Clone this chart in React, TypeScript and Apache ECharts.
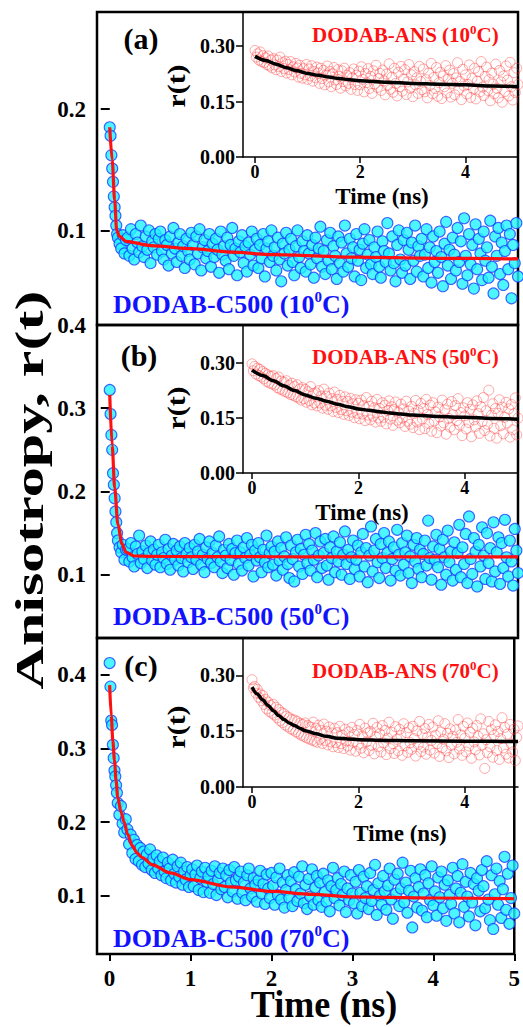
import { useEffect, useRef } from 'react';
import * as echarts from 'echarts';

// ---------------- data ----------------
const T_MAIN = [
  0, 0.01, 0.02, 0.03, 0.04, 0.05, 0.06, 0.07, 0.08, 0.09,
  0.10, 0.12, 0.14, 0.16, 0.18, 0.20,
  0.22, 0.24, 0.26, 0.28, 0.30, 0.32, 0.34, 0.36, 0.38, 0.40,
  0.42, 0.44, 0.46, 0.48, 0.50, 0.52, 0.54, 0.56, 0.58, 0.60,
  0.62, 0.64, 0.66, 0.68, 0.70, 0.72, 0.74, 0.76, 0.78, 0.80,
  0.82, 0.84, 0.86, 0.88, 0.90, 0.92, 0.94, 0.96, 0.98, 1.00,
  1.02, 1.04, 1.06, 1.08, 1.10, 1.12, 1.14, 1.16, 1.18, 1.20,
  1.22, 1.24, 1.26, 1.28, 1.30, 1.32, 1.34, 1.36, 1.38, 1.40,
  1.42, 1.44, 1.46, 1.48, 1.50, 1.52, 1.54, 1.56, 1.58, 1.60,
  1.62, 1.64, 1.66, 1.68, 1.70, 1.72, 1.74, 1.76, 1.78, 1.80,
  1.82, 1.84, 1.86, 1.88, 1.90, 1.92, 1.94, 1.96, 1.98, 2.00,
  2.02, 2.04, 2.06, 2.08, 2.10, 2.12, 2.14, 2.16, 2.18, 2.20,
  2.22, 2.24, 2.26, 2.28, 2.30, 2.32, 2.34, 2.36, 2.38, 2.40,
  2.42, 2.44, 2.46, 2.48, 2.50, 2.52, 2.54, 2.56, 2.58, 2.60,
  2.62, 2.64, 2.66, 2.68, 2.70, 2.72, 2.74, 2.76, 2.78, 2.80,
  2.82, 2.84, 2.86, 2.88, 2.90, 2.92, 2.94, 2.96, 2.98, 3.00,
  3.02, 3.04, 3.06, 3.08, 3.10, 3.12, 3.14, 3.16, 3.18, 3.20,
  3.22, 3.24, 3.26, 3.28, 3.30, 3.32, 3.34, 3.36, 3.38, 3.40,
  3.42, 3.44, 3.46, 3.48, 3.50, 3.52, 3.54, 3.56, 3.58, 3.60,
  3.62, 3.64, 3.66, 3.68, 3.70, 3.72, 3.74, 3.76, 3.78, 3.80,
  3.82, 3.84, 3.86, 3.88, 3.90, 3.92, 3.94, 3.96, 3.98, 4.00,
  4.02, 4.04, 4.06, 4.08, 4.10, 4.12, 4.14, 4.16, 4.18, 4.20,
  4.22, 4.24, 4.26, 4.28, 4.30, 4.32, 4.34, 4.36, 4.38, 4.40,
  4.42, 4.44, 4.46, 4.48, 4.50, 4.52, 4.54, 4.56, 4.58, 4.60,
  4.62, 4.64, 4.66, 4.68, 4.70, 4.72, 4.74, 4.76, 4.78, 4.80,
  4.82, 4.84, 4.86, 4.88, 4.90, 4.92, 4.94, 4.96, 4.98, 5.00,
];

const C500_10C = [
  0.185, 0.178, 0.162, 0.151, 0.140, 0.128, 0.119, 0.112, 0.104, 0.097,
  0.094, 0.089, 0.085, 0.096, 0.081, 0.092,
  0.094, 0.079, 0.101, 0.085, 0.076, 0.097, 0.090, 0.082, 0.104, 0.087,
  0.078, 0.095, 0.084, 0.100, 0.073, 0.091, 0.086, 0.097, 0.080, 0.093,
  0.099, 0.083, 0.076, 0.092, 0.088, 0.071, 0.095, 0.081, 0.102, 0.085,
  0.074, 0.090, 0.097, 0.079, 0.087, 0.069, 0.093, 0.083, 0.076, 0.098,
  0.088, 0.072, 0.095, 0.081, 0.101, 0.067, 0.086, 0.092, 0.077, 0.083,
  0.097, 0.070, 0.089, 0.078, 0.093, 0.084, 0.065, 0.099, 0.080, 0.087,
  0.075, 0.094, 0.068, 0.088, 0.102, 0.079, 0.085, 0.063, 0.091, 0.082,
  0.096, 0.073, 0.087, 0.066, 0.090, 0.080, 0.099, 0.071, 0.084, 0.093,
  0.069, 0.088, 0.077, 0.097, 0.062, 0.085, 0.091, 0.074, 0.100, 0.079,
  0.086, 0.067, 0.094, 0.076, 0.058, 0.089, 0.081, 0.098, 0.071, 0.084,
  0.093, 0.074, 0.063, 0.087, 0.100, 0.078, 0.069, 0.091, 0.083, 0.066,
  0.096, 0.081, 0.072, 0.088, 0.061, 0.094, 0.077, 0.085, 0.103, 0.070,
  0.083, 0.064, 0.092, 0.075, 0.098, 0.068, 0.087, 0.079, 0.060, 0.095,
  0.073, 0.090, 0.066, 0.104, 0.081, 0.070, 0.093, 0.077, 0.086, 0.062,
  0.097, 0.075, 0.084, 0.059, 0.089, 0.101, 0.069, 0.080, 0.092, 0.072,
  0.064, 0.086, 0.078, 0.099, 0.070, 0.061, 0.091, 0.083, 0.074, 0.106,
  0.081, 0.067, 0.095, 0.073, 0.058, 0.088, 0.100, 0.076, 0.065, 0.092,
  0.071, 0.098, 0.084, 0.060, 0.090, 0.075, 0.104, 0.066, 0.087, 0.079,
  0.093, 0.062, 0.080, 0.101, 0.069, 0.086, 0.057, 0.095, 0.074, 0.083,
  0.065, 0.099, 0.078, 0.054, 0.089, 0.107, 0.071, 0.084, 0.060, 0.094,
  0.080, 0.067, 0.102, 0.074, 0.091, 0.056, 0.110, 0.079, 0.063, 0.097,
  0.072, 0.088, 0.052, 0.105, 0.068, 0.093, 0.081, 0.059, 0.099, 0.075,
  0.086, 0.061, 0.108, 0.070, 0.048, 0.095, 0.079, 0.102, 0.064, 0.090,
  0.055, 0.083, 0.104, 0.068, 0.097, 0.044, 0.088, 0.073, 0.106, 0.062,
];

const C500_50C = [
  0.322, 0.293, 0.268, 0.250, 0.222, 0.208, 0.192, 0.176, 0.163, 0.150,
  0.141, 0.133, 0.127, 0.136, 0.118, 0.130,
  0.131, 0.116, 0.138, 0.121, 0.110, 0.134, 0.125, 0.147, 0.114, 0.128,
  0.119, 0.135, 0.108, 0.126, 0.140, 0.117, 0.130, 0.112, 0.124, 0.136,
  0.109, 0.127, 0.120, 0.142, 0.113, 0.131, 0.106, 0.123, 0.137, 0.118,
  0.129, 0.111, 0.134, 0.120, 0.104, 0.138, 0.125, 0.115, 0.132, 0.121,
  0.107, 0.136, 0.118, 0.128, 0.143, 0.112, 0.124, 0.103, 0.133, 0.119,
  0.140, 0.114, 0.126, 0.109, 0.135, 0.121, 0.146, 0.116, 0.102, 0.130,
  0.123, 0.108, 0.137, 0.118, 0.131, 0.100, 0.126, 0.141, 0.113, 0.127,
  0.105, 0.133, 0.120, 0.144, 0.111, 0.124, 0.136, 0.098, 0.129, 0.117,
  0.138, 0.121, 0.103, 0.130, 0.115, 0.147, 0.109, 0.126, 0.134, 0.112,
  0.128, 0.099, 0.140, 0.117, 0.132, 0.106, 0.122, 0.145, 0.113, 0.096,
  0.135, 0.119, 0.092, 0.127, 0.142, 0.110, 0.131, 0.101, 0.124, 0.148,
  0.114, 0.137, 0.105, 0.129, 0.118, 0.150, 0.097, 0.123, 0.140, 0.108,
  0.126, 0.143, 0.111, 0.094, 0.133, 0.120, 0.146, 0.103, 0.128, 0.116,
  0.139, 0.100, 0.124, 0.152, 0.113, 0.130, 0.095, 0.121, 0.141, 0.107,
  0.118, 0.135, 0.098, 0.127, 0.149, 0.110, 0.132, 0.091, 0.123, 0.158,
  0.104, 0.129, 0.143, 0.115, 0.096, 0.137, 0.120, 0.150, 0.108, 0.126,
  0.140, 0.093, 0.119, 0.133, 0.105, 0.154, 0.124, 0.099, 0.138, 0.112,
  0.127, 0.147, 0.102, 0.122, 0.090, 0.136, 0.116, 0.144, 0.107, 0.130,
  0.097, 0.125, 0.141, 0.111, 0.165, 0.120, 0.094, 0.134, 0.118, 0.148,
  0.109, 0.131, 0.088, 0.142, 0.121, 0.100, 0.153, 0.115, 0.128, 0.093,
  0.139, 0.106, 0.126, 0.160, 0.097, 0.133, 0.113, 0.149, 0.090, 0.170,
  0.119, 0.101, 0.144, 0.128, 0.086, 0.136, 0.110, 0.157, 0.123, 0.095,
  0.150, 0.114, 0.132, 0.092, 0.163, 0.104, 0.127, 0.145, 0.089, 0.138,
  0.108, 0.166, 0.121, 0.098, 0.141, 0.116, 0.087, 0.155, 0.129, 0.102,
];

const C500_70C = [
  0.416, 0.384, 0.338, 0.332, 0.305, 0.287, 0.270, 0.262, 0.250, 0.240,
  0.226, 0.210, 0.222, 0.198, 0.186, 0.204,
  0.190, 0.170, 0.183, 0.158, 0.176, 0.150, 0.169, 0.147, 0.165, 0.142,
  0.160, 0.139, 0.156, 0.144, 0.163, 0.135, 0.151, 0.131, 0.155, 0.137,
  0.147, 0.128, 0.152, 0.133, 0.124, 0.145, 0.137, 0.121, 0.149, 0.130,
  0.118, 0.140, 0.126, 0.145, 0.115, 0.133, 0.122, 0.139, 0.112, 0.128,
  0.136, 0.113, 0.129, 0.141, 0.108, 0.124, 0.133, 0.105, 0.138, 0.119,
  0.127, 0.104, 0.134, 0.116, 0.140, 0.101, 0.122, 0.131, 0.109, 0.137,
  0.112, 0.128, 0.098, 0.135, 0.118, 0.106, 0.139, 0.121, 0.096, 0.126,
  0.133, 0.104, 0.118, 0.094, 0.128, 0.137, 0.110, 0.099, 0.124, 0.115,
  0.092, 0.121, 0.134, 0.103, 0.116, 0.089, 0.129, 0.110, 0.097, 0.131,
  0.114, 0.088, 0.125, 0.101, 0.137, 0.095, 0.118, 0.084, 0.108, 0.128,
  0.097, 0.120, 0.086, 0.132, 0.109, 0.093, 0.126, 0.103, 0.140, 0.090,
  0.115, 0.082, 0.123, 0.099, 0.136, 0.088, 0.111, 0.127, 0.094, 0.118,
  0.085, 0.130, 0.105, 0.092, 0.121, 0.079, 0.113, 0.138, 0.097, 0.108,
  0.124, 0.087, 0.116, 0.101, 0.133, 0.078, 0.110, 0.094, 0.128, 0.103,
  0.090, 0.119, 0.076, 0.135, 0.104, 0.086, 0.126, 0.097, 0.113, 0.082,
  0.131, 0.093, 0.108, 0.142, 0.074, 0.117, 0.100, 0.088, 0.127, 0.106,
  0.081, 0.114, 0.137, 0.095, 0.069, 0.122, 0.103, 0.130, 0.086, 0.110,
  0.145, 0.091, 0.118, 0.077, 0.107, 0.134, 0.057, 0.099, 0.124, 0.084,
  0.112, 0.136, 0.080, 0.103, 0.128, 0.071, 0.117, 0.094, 0.140, 0.087,
  0.106, 0.073, 0.125, 0.098, 0.133, 0.083, 0.115, 0.066, 0.121, 0.101,
  0.089, 0.138, 0.076, 0.110, 0.127, 0.064, 0.104, 0.143, 0.085, 0.119,
  0.099, 0.072, 0.131, 0.091, 0.116, 0.060, 0.124, 0.107, 0.079, 0.135,
  0.113, 0.083, 0.147, 0.095, 0.067, 0.128, 0.055, 0.102, 0.137, 0.088,
  0.120, 0.070, 0.109, 0.153, 0.081, 0.130, 0.062, 0.097, 0.141, 0.076,
];

const FIT_MAIN_10C_T = [0, 0.03, 0.06, 0.085, 0.12, 0.2, 0.5, 1, 1.5, 2, 3, 4, 5];
const FIT_MAIN_10C_V = [0.185, 0.158, 0.125, 0.100, 0.095, 0.091, 0.0875, 0.085, 0.082, 0.080, 0.078, 0.077, 0.0765];
const FIT_MAIN_50C_T = [0, 0.03, 0.06, 0.1, 0.15, 0.2, 0.3, 0.5, 1, 2, 3, 4, 5];
const FIT_MAIN_50C_V = [0.316, 0.255, 0.205, 0.160, 0.137, 0.127, 0.1225, 0.122, 0.1218, 0.1216, 0.1215, 0.1215, 0.1215];
const FIT_MAIN_70C_T = [0, 0.02, 0.04, 0.06, 0.08, 0.1, 0.14, 0.18, 0.22, 0.28, 0.34, 0.4, 0.53, 0.75, 1, 1.5, 2, 2.5, 3, 4, 5];
const FIT_MAIN_70C_V = [0.386, 0.345, 0.31, 0.284, 0.256, 0.234, 0.214, 0.2, 0.184, 0.168, 0.158, 0.152, 0.142, 0.131, 0.122, 0.112, 0.106, 0.102, 0.0986, 0.097, 0.096];

const T_INSET = [
  0, 0.025, 0.05, 0.075, 0.1, 0.125, 0.15, 0.175,
  0.2, 0.225, 0.25, 0.275, 0.3, 0.325, 0.35, 0.375,
  0.4, 0.425, 0.45, 0.475, 0.5, 0.525, 0.55, 0.575,
  0.6, 0.625, 0.65, 0.675, 0.7, 0.725, 0.75, 0.775,
  0.8, 0.825, 0.85, 0.875, 0.9, 0.925, 0.95, 0.975,
  1.0, 1.025, 1.05, 1.075, 1.1, 1.125, 1.15, 1.175,
  1.2, 1.225, 1.25, 1.275, 1.3, 1.325, 1.35, 1.375,
  1.4, 1.425, 1.45, 1.475, 1.5, 1.525, 1.55, 1.575,
  1.6, 1.625, 1.65, 1.675, 1.7, 1.725, 1.75, 1.775,
  1.8, 1.825, 1.85, 1.875, 1.9, 1.925, 1.95, 1.975,
  2.0, 2.025, 2.05, 2.075, 2.1, 2.125, 2.15, 2.175,
  2.2, 2.225, 2.25, 2.275, 2.3, 2.325, 2.35, 2.375,
  2.4, 2.425, 2.45, 2.475, 2.5, 2.525, 2.55, 2.575,
  2.6, 2.625, 2.65, 2.675, 2.7, 2.725, 2.75, 2.775,
  2.8, 2.825, 2.85, 2.875, 2.9, 2.925, 2.95, 2.975,
  3.0, 3.025, 3.05, 3.075, 3.1, 3.125, 3.15, 3.175,
  3.2, 3.225, 3.25, 3.275, 3.3, 3.325, 3.35, 3.375,
  3.4, 3.425, 3.45, 3.475, 3.5, 3.525, 3.55, 3.575,
  3.6, 3.625, 3.65, 3.675, 3.7, 3.725, 3.75, 3.775,
  3.8, 3.825, 3.85, 3.875, 3.9, 3.925, 3.95, 3.975,
  4.0, 4.025, 4.05, 4.075, 4.1, 4.125, 4.15, 4.175,
  4.2, 4.225, 4.25, 4.275, 4.3, 4.325, 4.35, 4.375,
  4.4, 4.425, 4.45, 4.475, 4.5, 4.525, 4.55, 4.575,
  4.6, 4.625, 4.65, 4.675, 4.7, 4.725, 4.75, 4.775,
  4.8, 4.825, 4.85, 4.875, 4.9, 4.925, 4.95, 4.975,
  5.0,
];

const ANS_10C = [
  0.288, 0.270, 0.279, 0.262, 0.284, 0.258, 0.274, 0.255,
  0.268, 0.250, 0.273, 0.246, 0.262, 0.241, 0.266, 0.249,
  0.236, 0.262, 0.244, 0.270, 0.231, 0.255, 0.239, 0.259,
  0.227, 0.250, 0.236, 0.258, 0.222, 0.244, 0.230, 0.253,
  0.241, 0.216, 0.248, 0.226, 0.213, 0.239, 0.222, 0.250,
  0.210, 0.238, 0.219, 0.247, 0.205, 0.231, 0.214, 0.243,
  0.227, 0.199, 0.240, 0.212, 0.234, 0.195, 0.222, 0.246,
  0.203, 0.231, 0.190, 0.225, 0.242, 0.208, 0.196, 0.236,
  0.218, 0.186, 0.233, 0.204, 0.240, 0.192, 0.221, 0.199,
  0.228, 0.183, 0.214, 0.238, 0.196, 0.221, 0.180, 0.232,
  0.195, 0.244, 0.210, 0.176, 0.226, 0.201, 0.239, 0.185,
  0.218, 0.172, 0.233, 0.197, 0.248, 0.188, 0.212, 0.226,
  0.180, 0.235, 0.206, 0.168, 0.224, 0.194, 0.252, 0.183,
  0.216, 0.175, 0.240, 0.199, 0.165, 0.229, 0.190, 0.245,
  0.178, 0.211, 0.236, 0.169, 0.203, 0.250, 0.186, 0.222,
  0.163, 0.231, 0.195, 0.214, 0.172, 0.245, 0.204, 0.182,
  0.238, 0.176, 0.209, 0.160, 0.227, 0.193, 0.253, 0.171,
  0.215, 0.185, 0.242, 0.164, 0.201, 0.229, 0.158, 0.219,
  0.190, 0.247, 0.173, 0.211, 0.235, 0.162, 0.199, 0.226,
  0.168, 0.214, 0.255, 0.183, 0.204, 0.155, 0.237, 0.192,
  0.222, 0.170, 0.196, 0.249, 0.161, 0.213, 0.184, 0.240,
  0.157, 0.205, 0.231, 0.176, 0.258, 0.189, 0.166, 0.218,
  0.243, 0.180, 0.209, 0.152, 0.227, 0.197, 0.171, 0.251,
  0.186, 0.160, 0.234, 0.203, 0.148, 0.219, 0.177, 0.246,
  0.208, 0.165, 0.256, 0.190, 0.154, 0.228, 0.174, 0.240,
  0.196,
];

const ANS_50C = [
  0.298, 0.279, 0.291, 0.270, 0.286, 0.266, 0.283, 0.262,
  0.277, 0.257, 0.272, 0.250, 0.268, 0.246, 0.264, 0.243,
  0.266, 0.240, 0.258, 0.233, 0.262, 0.229, 0.251, 0.226,
  0.248, 0.222, 0.252, 0.219, 0.240, 0.214, 0.245, 0.212,
  0.236, 0.208, 0.241, 0.205, 0.229, 0.199, 0.233, 0.203,
  0.228, 0.193, 0.222, 0.198, 0.236, 0.186, 0.217, 0.191,
  0.219, 0.183, 0.225, 0.191, 0.210, 0.177, 0.229, 0.185,
  0.210, 0.174, 0.218, 0.183, 0.203, 0.168, 0.221, 0.179,
  0.201, 0.165, 0.212, 0.173, 0.196, 0.160, 0.208, 0.170,
  0.195, 0.157, 0.204, 0.166, 0.189, 0.151, 0.200, 0.163,
  0.190, 0.148, 0.199, 0.161, 0.184, 0.143, 0.206, 0.158,
  0.182, 0.145, 0.196, 0.155, 0.178, 0.139, 0.201, 0.150,
  0.176, 0.141, 0.192, 0.152, 0.185, 0.134, 0.170, 0.197,
  0.147, 0.181, 0.130, 0.173, 0.194, 0.144, 0.166, 0.137,
  0.188, 0.150, 0.175, 0.127, 0.196, 0.141, 0.169, 0.133,
  0.182, 0.124, 0.163, 0.198, 0.139, 0.171, 0.118, 0.190,
  0.148, 0.176, 0.121, 0.201, 0.160, 0.135, 0.185, 0.114,
  0.192, 0.142, 0.167, 0.110, 0.180, 0.153, 0.128, 0.199,
  0.137, 0.172, 0.106, 0.188, 0.149, 0.125, 0.195, 0.159,
  0.118, 0.184, 0.143, 0.203, 0.131, 0.165, 0.102, 0.178,
  0.156, 0.120, 0.192, 0.138, 0.174, 0.099, 0.186, 0.145,
  0.127, 0.197, 0.162, 0.108, 0.181, 0.140, 0.206, 0.116,
  0.170, 0.133, 0.226, 0.101, 0.158, 0.189, 0.122, 0.176,
  0.095, 0.163, 0.200, 0.129, 0.180, 0.107, 0.152, 0.193,
  0.136, 0.175, 0.098, 0.187, 0.118, 0.162, 0.205, 0.104,
  0.150,
];

const ANS_70C = [
  0.288, 0.266, 0.270, 0.252, 0.262, 0.241, 0.250, 0.232,
  0.246, 0.222, 0.235, 0.210, 0.228, 0.203, 0.219, 0.198,
  0.222, 0.193, 0.214, 0.186, 0.208, 0.178, 0.200, 0.173,
  0.197, 0.166, 0.190, 0.162, 0.186, 0.156, 0.181, 0.153,
  0.180, 0.148, 0.176, 0.144, 0.171, 0.139, 0.168, 0.136,
  0.172, 0.132, 0.165, 0.129, 0.161, 0.126, 0.174, 0.123,
  0.158, 0.120, 0.166, 0.128, 0.152, 0.117, 0.169, 0.125,
  0.150, 0.113, 0.161, 0.121, 0.145, 0.108, 0.158, 0.119,
  0.146, 0.106, 0.163, 0.116, 0.139, 0.103, 0.155, 0.124,
  0.110, 0.148, 0.099, 0.160, 0.120, 0.141, 0.096, 0.152,
  0.115, 0.168, 0.104, 0.137, 0.092, 0.158, 0.121, 0.145,
  0.098, 0.149, 0.112, 0.171, 0.089, 0.135, 0.160, 0.108,
  0.143, 0.094, 0.165, 0.118, 0.152, 0.087, 0.131, 0.174,
  0.103, 0.147, 0.116, 0.090, 0.162, 0.128, 0.097, 0.155,
  0.138, 0.085, 0.170, 0.111, 0.146, 0.093, 0.159, 0.119,
  0.101, 0.163, 0.130, 0.083, 0.151, 0.114, 0.176, 0.095,
  0.142, 0.107, 0.157, 0.088, 0.134, 0.168, 0.099, 0.125,
  0.161, 0.091, 0.139, 0.116, 0.178, 0.082, 0.148, 0.105,
  0.128, 0.170, 0.097, 0.144, 0.079, 0.156, 0.112, 0.136,
  0.089, 0.153, 0.120, 0.181, 0.102, 0.140, 0.085, 0.163,
  0.131, 0.094, 0.172, 0.110, 0.147, 0.077, 0.158, 0.121,
  0.100, 0.165, 0.136, 0.086, 0.183, 0.113, 0.143, 0.050,
  0.127, 0.092, 0.176, 0.108, 0.154, 0.080, 0.139, 0.167,
  0.098, 0.149, 0.074, 0.130, 0.186, 0.105, 0.160, 0.088,
  0.142, 0.078, 0.168, 0.115, 0.094, 0.155, 0.071, 0.133,
  0.164,
];

const FIT_INSET_10C_T = [0, 0.2, 0.4, 0.6, 0.8, 1.0, 1.2, 1.4, 1.6, 1.8, 2.0, 2.5, 3, 3.5, 4, 4.5, 5];
const FIT_INSET_10C_V = [0.272, 0.261, 0.251, 0.241, 0.233, 0.226, 0.221, 0.216, 0.212, 0.209, 0.206, 0.202, 0.199, 0.197, 0.195, 0.192, 0.19];
const FIT_INSET_50C_T = [0, 0.2, 0.4, 0.6, 0.8, 1.0, 1.2, 1.4, 1.6, 1.8, 2.0, 2.2, 2.4, 2.6, 2.8, 3.0, 3.5, 4, 4.5, 5];
const FIT_INSET_50C_V = [0.281, 0.266, 0.252, 0.238, 0.225, 0.213, 0.204, 0.196, 0.188, 0.181, 0.175, 0.171, 0.167, 0.164, 0.161, 0.158, 0.154, 0.152, 0.149, 0.147];
const FIT_INSET_70C_T = [0, 0.1, 0.2, 0.3, 0.4, 0.5, 0.6, 0.7, 0.8, 0.9, 1.0, 1.2, 1.4, 1.6, 1.8, 2.0, 2.5, 3, 4, 5];
const FIT_INSET_70C_V = [0.268, 0.25, 0.234, 0.219, 0.205, 0.192, 0.181, 0.172, 0.165, 0.158, 0.151, 0.143, 0.136, 0.131, 0.129, 0.127, 0.125, 0.124, 0.123, 0.122];

const PANEL_LABELS = ['(a)', '(b)', '(c)'];
const TEMPS = ['10', '50', '70'];
const MAIN_Y_TICKS = [[0.1, 0.2], [0.1, 0.2, 0.3, 0.4], [0.1, 0.2, 0.3, 0.4]];
const MAIN_X_TICKS = [0, 1, 2, 3, 4, 5];
const INSET_Y_TICKS = [0, 0.15, 0.3];
const INSET_X_TICKS = [0, 2, 4];

// ---------------- layout / style ----------------
const FONT = "'Liberation Serif', 'Times New Roman', serif";
const BLUE = '#1212ff';
const RED = '#ff1010';

const MAIN_GRIDS = [
  { left: 97, top: 12, width: 421, height: 313 },
  { left: 97, top: 325, width: 421, height: 313 },
  { left: 97, top: 638, width: 421, height: 316 },
];
const MAIN_Y_RANGE = [[0.022, 0.28], [0.024, 0.4], [0.021, 0.45]];
const MAIN_X_RANGE = [-0.156, 5];
const INSET_GRIDS = [
  { left: 243, top: 12, width: 275, height: 145 },
  { left: 243, top: 325, width: 275, height: 148 },
  { left: 243, top: 638, width: 275, height: 149 },
];
const INSET_Y_RANGE = [[0, 0.392], [0, 0.404], [0, 0.4]];
const INSET_X_RANGE = [[-0.229, 5], [-0.169, 5], [-0.169, 5]];

const pairs = (t: number[], v: number[]) => t.map((x, i) => [x, v[i]]);

function buildOption() {
  const mainData = [C500_10C, C500_50C, C500_70C];
  const mainFits = [
    pairs(FIT_MAIN_10C_T, FIT_MAIN_10C_V),
    pairs(FIT_MAIN_50C_T, FIT_MAIN_50C_V),
    pairs(FIT_MAIN_70C_T, FIT_MAIN_70C_V),
  ];
  const insetData = [ANS_10C, ANS_50C, ANS_70C];
  const insetFits = [
    pairs(FIT_INSET_10C_T, FIT_INSET_10C_V),
    pairs(FIT_INSET_50C_T, FIT_INSET_50C_V),
    pairs(FIT_INSET_70C_T, FIT_INSET_70C_V),
  ];

  const grid: any[] = [];
  const xAxis: any[] = [];
  const yAxis: any[] = [];
  const series: any[] = [];

  for (let p = 0; p < 3; p++) {
    grid.push({ ...MAIN_GRIDS[p], show: true, borderColor: '#000', borderWidth: 2.5, backgroundColor: 'transparent' });
    const isLast = p === 2;
    xAxis.push({
      type: 'value', gridIndex: p, min: MAIN_X_RANGE[0], max: MAIN_X_RANGE[1],
      axisLine: { show: false }, splitLine: { show: false },
      axisTick: { show: isLast, customValues: MAIN_X_TICKS, length: 7, lineStyle: { color: '#000', width: 2 } },
      axisLabel: {
        show: isLast, customValues: MAIN_X_TICKS, margin: 13,
        fontFamily: FONT, fontWeight: 'bold', fontSize: 23, color: '#000',
      },
    });
    yAxis.push({
      type: 'value', gridIndex: p, min: MAIN_Y_RANGE[p][0], max: MAIN_Y_RANGE[p][1],
      axisLine: { show: false }, splitLine: { show: false },
      axisTick: { show: true, customValues: MAIN_Y_TICKS[p], length: 9, lineStyle: { color: '#000', width: 2 } },
      axisLabel: {
        customValues: MAIN_Y_TICKS[p], margin: 11,
        fontFamily: FONT, fontWeight: 'bold', fontSize: 23, color: '#000',
        formatter: (v: number) => String(Math.round(v * 10) / 10),
      },
    });
  }
  for (let p = 0; p < 3; p++) {
    grid.push({ ...INSET_GRIDS[p], show: false });
    xAxis.push({
      type: 'value', gridIndex: 3 + p, min: INSET_X_RANGE[p][0], max: INSET_X_RANGE[p][1],
      axisLine: { show: true, onZero: false, lineStyle: { color: '#000', width: 1.5 } },
      splitLine: { show: false },
      axisTick: { show: true, customValues: INSET_X_TICKS, length: 6, lineStyle: { color: '#000', width: 1.5 } },
      axisLabel: {
        customValues: INSET_X_TICKS, margin: 7, lineHeight: 15,
        fontFamily: FONT, fontWeight: 'bold', fontSize: 18, color: '#000',
      },
    });
    yAxis.push({
      type: 'value', gridIndex: 3 + p, min: INSET_Y_RANGE[p][0], max: INSET_Y_RANGE[p][1],
      axisLine: { show: true, onZero: false, lineStyle: { color: '#000', width: 1.5 } },
      splitLine: { show: false },
      axisTick: { show: true, customValues: INSET_Y_TICKS, length: 7, lineStyle: { color: '#000', width: 1.5 } },
      axisLabel: {
        customValues: INSET_Y_TICKS, margin: 8,
        fontFamily: FONT, fontWeight: 'bold', fontSize: 20, color: '#000',
        formatter: (v: number) => v.toFixed(2),
      },
    });
  }

  for (let p = 0; p < 3; p++) {
    series.push({
      type: 'scatter', xAxisIndex: p, yAxisIndex: p, symbol: 'circle', symbolSize: 11,
      data: pairs(T_MAIN, mainData[p]),
      itemStyle: { color: '#1ff2ff', borderColor: '#1a3cff', borderWidth: 1.1 },
      z: 2,
    });
    series.push({
      type: 'line', xAxisIndex: p, yAxisIndex: p, data: mainFits[p], showSymbol: false,
      smooth: 0.3, smoothMonotone: 'x',
      lineStyle: { color: RED, width: 3.2 }, z: 3,
    });
    series.push({
      type: 'scatter', xAxisIndex: 3 + p, yAxisIndex: 3 + p, symbol: 'circle', symbolSize: 10,
      data: pairs(T_INSET, insetData[p]),
      itemStyle: { color: 'rgba(255,255,255,0)', borderColor: 'rgba(255,60,60,0.55)', borderWidth: 1 },
      z: 2,
    });
    series.push({
      type: 'line', xAxisIndex: 3 + p, yAxisIndex: 3 + p, data: insetFits[p], showSymbol: false,
      smooth: 0.3, smoothMonotone: 'x',
      lineStyle: { color: '#000', width: 3.5 }, z: 3,
    });
  }

  const panelLabelPos = [[141, 38], [139, 355], [141, 665]];
  const blueLabelY = [304, 616, 938];
  const redLabelY = [35, 357, 671];
  const insetRtY = [86, 408, 727];
  const insetTimePos = [[382, 196], [362, 512], [400, 833]];

  const graphic: any[] = [];
  for (let p = 0; p < 3; p++) {
    graphic.push({
      type: 'text', x: panelLabelPos[p][0], y: panelLabelPos[p][1], z: 10,
      style: { text: PANEL_LABELS[p], font: `bold 30px ${FONT}`, fill: '#000', textAlign: 'center', textVerticalAlign: 'middle' },
    });
    graphic.push({
      type: 'text', x: 113, y: blueLabelY[p], z: 10,
      style: {
        text: `{n|DODAB-C500 (${TEMPS[p]}}{s|0}{n|C)}`,
        textAlign: 'left', textVerticalAlign: 'middle',
        rich: {
          n: { fontFamily: FONT, fontWeight: 'bold', fontSize: 26, fill: BLUE, lineHeight: 30 },
          s: { fontFamily: FONT, fontWeight: 'bold', fontSize: 15, fill: BLUE, lineHeight: 14, verticalAlign: 'top' },
        },
      },
    });
    graphic.push({
      type: 'text', x: 312, y: redLabelY[p], z: 10,
      style: {
        text: `{n|DODAB-ANS (${TEMPS[p]}}{s|0}{n|C)}`,
        textAlign: 'left', textVerticalAlign: 'middle',
        rich: {
          n: { fontFamily: FONT, fontWeight: 'bold', fontSize: 21, fill: RED, lineHeight: 24 },
          s: { fontFamily: FONT, fontWeight: 'bold', fontSize: 13, fill: RED, lineHeight: 12, verticalAlign: 'top' },
        },
      },
    });
    graphic.push({
      type: 'text', x: 176, y: insetRtY[p], rotation: Math.PI / 2, scaleX: 1.15, z: 10,
      style: { text: 'r(t)', font: `bold 26px ${FONT}`, fill: '#000', textAlign: 'center', textVerticalAlign: 'middle' },
    });
    graphic.push({
      type: 'text', x: insetTimePos[p][0], y: insetTimePos[p][1], z: 10,
      style: { text: 'Time (ns)', font: `bold 23px ${FONT}`, lineHeight: 20, fill: '#000', textAlign: 'center', textVerticalAlign: 'middle' },
    });
  }
  graphic.push({
    type: 'text', x: 30, y: 490, rotation: Math.PI / 2, scaleX: 1.5, z: 10,
    style: { text: 'Anisotropy, r(t)', font: `bold 40px ${FONT}`, fill: '#000', textAlign: 'center', textVerticalAlign: 'middle' },
  });
  graphic.push({
    type: 'text', x: 324, y: 1004, scaleY: 1.06, z: 10,
    style: { text: 'Time (ns)', font: `bold 36px ${FONT}`, fill: '#000', textAlign: 'center', textVerticalAlign: 'middle' },
  });

  return { animation: false, backgroundColor: '#fff', grid, xAxis, yAxis, series, graphic };
}

export default function App() {
  const ref = useRef<HTMLDivElement>(null);
  useEffect(() => {
    if (!ref.current) return;
    const chart = echarts.init(ref.current, null, { renderer: 'svg' });
    chart.setOption(buildOption() as any);
    return () => chart.dispose();
  }, []);
  return (
    <div
      ref={ref}
      style={{ position: 'absolute', left: 0, top: 0, width: 523, height: 1027, background: '#fff' }}
    />
  );
}
